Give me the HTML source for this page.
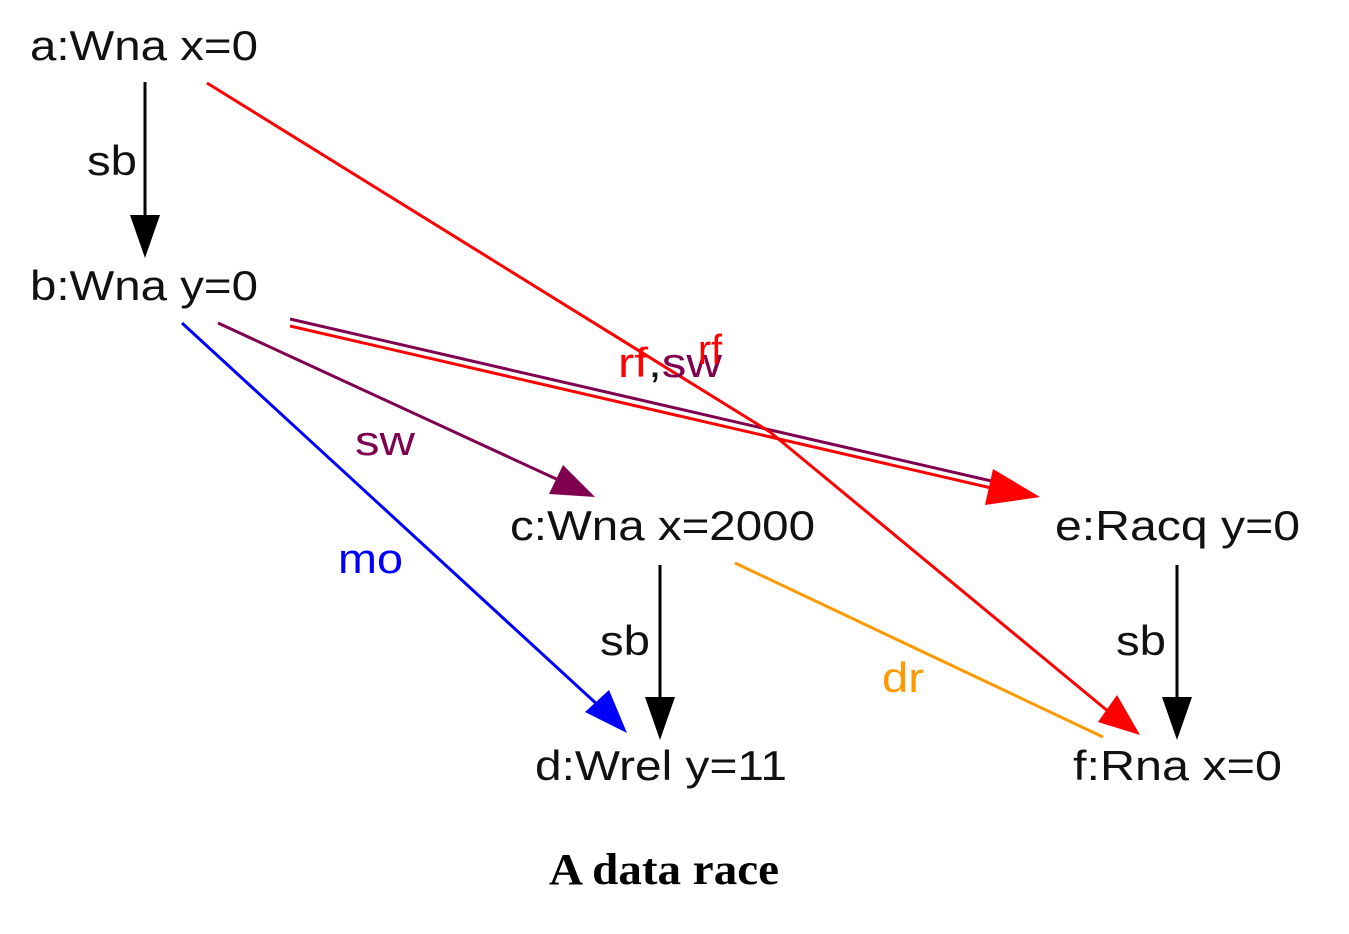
<!DOCTYPE html>
<html><head><meta charset="utf-8"><style>
html,body{margin:0;padding:0;background:#fff;}
svg{display:block;}
.n{font-family:"Liberation Sans",sans-serif;font-size:42px;fill:#111;}
.l{font-family:"Liberation Sans",sans-serif;font-size:42px;}
</style></head><body>
<svg width="1349" height="934" viewBox="0 0 1349 934">
<g>
<line x1="145" y1="82" x2="145" y2="220" stroke="#000" stroke-width="3"/>
<polygon points="130,215 160,215 145,258" fill="#000"/>
</g>
<g>
<line x1="660" y1="565" x2="660" y2="700" stroke="#000" stroke-width="3"/>
<polygon points="645,697 675,697 660,740" fill="#000"/>
</g>
<g>
<line x1="1177" y1="565" x2="1177" y2="700" stroke="#000" stroke-width="3"/>
<polygon points="1162,697 1192,697 1177,740" fill="#000"/>
</g>
<line x1="735" y1="563" x2="1103" y2="737" stroke="#ff9900" stroke-width="3"/>
<g>
<line x1="182" y1="323" x2="600" y2="707" stroke="#0000ff" stroke-width="3"/>
<polygon points="585,712 609,690 627,733" fill="#0000ff"/>
</g>
<g>
<line x1="218" y1="323" x2="565" y2="483" stroke="#800050" stroke-width="3"/>
<polygon points="549,494 563,465 595,497" fill="#800050"/>
</g>
<g>
<line x1="290" y1="319" x2="1000" y2="483" stroke="#800050" stroke-width="3"/>
<line x1="290" y1="326" x2="1000" y2="490" stroke="#ff0000" stroke-width="3"/>
<polygon points="985,505 993,469 1040,497" fill="#ff0000"/>
</g>
<g>
<polyline points="207,83 770,432 1115,717" fill="none" stroke="#ff0000" stroke-width="3" stroke-linejoin="round"/>
<polygon points="1098,722 1117,695 1140,735" fill="#ff0000"/>
</g>
<text class="n" x="30" y="60" textLength="228" lengthAdjust="spacingAndGlyphs">a:Wna x=0</text>
<text class="n" x="30" y="300" textLength="228" lengthAdjust="spacingAndGlyphs">b:Wna y=0</text>
<text class="n" x="510" y="540" textLength="305" lengthAdjust="spacingAndGlyphs">c:Wna x=2000</text>
<text class="n" x="1055" y="540" textLength="245" lengthAdjust="spacingAndGlyphs">e:Racq y=0</text>
<text class="n" x="535" y="780" textLength="252" lengthAdjust="spacingAndGlyphs">d:Wrel y=11</text>
<text class="n" x="1073" y="780" textLength="209" lengthAdjust="spacingAndGlyphs">f:Rna x=0</text>
<text class="l" x="87" y="175" fill="#111" textLength="50" lengthAdjust="spacingAndGlyphs">sb</text>
<text class="l" x="600" y="655" fill="#111" textLength="50" lengthAdjust="spacingAndGlyphs">sb</text>
<text class="l" x="1116" y="655" fill="#111" textLength="50" lengthAdjust="spacingAndGlyphs">sb</text>
<text class="l" x="355" y="455" fill="#800050" textLength="60" lengthAdjust="spacingAndGlyphs">sw</text>
<text class="l" x="338" y="573" fill="#0000ff" textLength="65" lengthAdjust="spacingAndGlyphs">mo</text>
<text class="l" x="882" y="692" fill="#ff9900" textLength="42" lengthAdjust="spacingAndGlyphs">dr</text>
<text class="l" x="618" y="377" textLength="104" lengthAdjust="spacingAndGlyphs"><tspan fill="#ff0000">rf</tspan><tspan fill="#111">,</tspan><tspan fill="#800050">sw</tspan></text>
<text class="l" x="698" y="364" fill="#ff0000" textLength="24" lengthAdjust="spacingAndGlyphs">rf</text>
<text x="549" y="884" textLength="230" lengthAdjust="spacingAndGlyphs" font-family="'Liberation Serif',serif" font-weight="bold" font-size="44" fill="#000">A data race</text>
</svg>
</body></html>
